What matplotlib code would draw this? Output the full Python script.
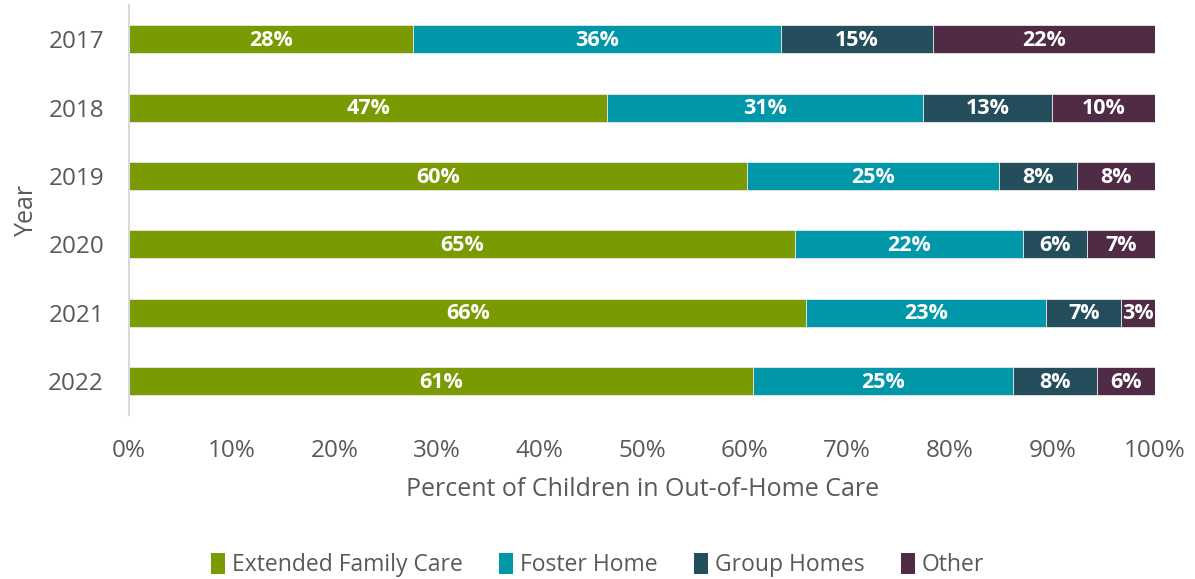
import numpy as np
import matplotlib
matplotlib.use("Agg")
import matplotlib.pyplot as plt
from matplotlib.patches import Patch

plt.rcParams['font.family'] = ['Open Sans', 'DejaVu Sans']

years = ["2017", "2018", "2019", "2020", "2021", "2022"]
categories = ["Extended Family Care", "Foster Home", "Group Homes", "Other"]
extended = [27.7, 46.6, 60.2, 64.9, 66.0, 60.8]
foster = [35.8, 30.8, 24.6, 22.2, 23.4, 25.4]
group = [14.9, 12.6, 7.6, 6.3, 7.3, 8.1]
other = [21.6, 10.0, 7.6, 6.6, 3.3, 5.7]
colors = ["#7a9a01", "#0097a9", "#244e5c", "#502b45"]
grey = "#595959"

fig = plt.figure(figsize=(11.95, 5.79), dpi=100)
ax = fig.add_axes([0.108, 0.2832, 0.8586, 0.708])

y = np.arange(len(years))
left = np.zeros(len(years))
for name, vals, c in zip(categories, [extended, foster, group, other], colors):
    vals = np.array(vals)
    bars = ax.barh(y, vals, left=left, height=0.41, color=c,
                   edgecolor="#e8e8e8", linewidth=0.6)
    for yi, l, v in zip(y, left, vals):
        ax.text(l + v / 2, yi + 0.02, f"{v:.0f}%", ha="center", va="center",
                color="white", fontsize=15.5, fontweight="bold")
    left += vals

ax.set_xlim(0, 100)
ax.set_ylim(len(years) - 0.5, -0.5)
ax.set_yticks(y)
ax.set_yticklabels(years)
ax.set_xticks(np.arange(0, 101, 10))
ax.set_xticklabels([f"{t}%" for t in range(0, 101, 10)])
ax.tick_params(axis="both", length=0, colors=grey, labelsize=17.5)
ax.tick_params(axis="y", pad=18)
ax.tick_params(axis="x", pad=17)
for s in ["top", "right", "bottom"]:
    ax.spines[s].set_visible(False)
ax.spines["left"].set_color("#d9d9d9")
ax.spines["left"].set_linewidth(1.5)

ax.set_xlabel("Percent of Children in Out-of-Home Care", fontsize=18,
              color=grey, labelpad=10)
ax.set_ylabel("Year", fontsize=18, color=grey, labelpad=7)

handles = [Patch(facecolor=c, label=n) for n, c in zip(categories, colors)]
fig.legend(handles=handles, loc="center", bbox_to_anchor=(0.5, 0.024),
           ncol=4, frameon=False, fontsize=16.5, handlelength=0.6,
           handleheight=1.0, handletextpad=0.3, columnspacing=1.6,
           labelcolor=grey)

fig.savefig("out.png", dpi=100)
